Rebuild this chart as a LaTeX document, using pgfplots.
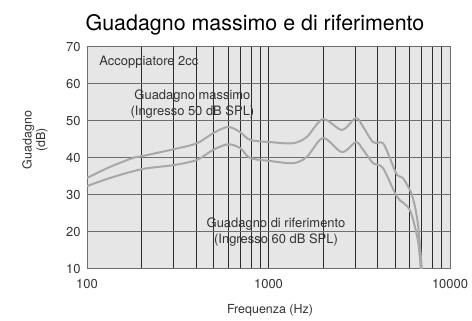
\documentclass[border=0pt]{standalone}
\usepackage{fontspec}
\setmainfont{TeX Gyre Heros}
\usepackage{pgfplots}
\pgfplotsset{compat=1.18}
\usetikzlibrary{calc}
\definecolor{bg}{HTML}{E6E6E6}
\definecolor{curve}{HTML}{A8A8A8}
\definecolor{txt}{HTML}{333333}
\definecolor{hgrid}{HTML}{6E6E6E}
\definecolor{vgrid}{HTML}{2A2A2A}
\begin{document}
\begin{tikzpicture}
\begin{axis}[
  scale only axis,
  width=363bp, height=222bp,
  xmode=log, xmin=100, xmax=10000, ymin=10, ymax=70,
  axis background/.style={fill=bg},
  axis line style={hgrid, line width=1pt},
  xtick={100,1000,10000}, xticklabels={100,1000,10000},
  ytick={10,20,30,40,50,60,70},
  major tick length=0pt, minor tick length=0pt,
  xmajorgrids, xminorgrids, ymajorgrids,
  minor x tick num=8,
  x grid style={vgrid, line width=0.8pt},
  major x grid style={vgrid, line width=0.8pt},
  minor x grid style={vgrid, line width=0.8pt},
  y grid style={hgrid, line width=1pt},
  ticklabel style={font=\fontsize{13}{15}\selectfont, text=txt},
  /pgf/number format/assume math mode=true,
  xticklabel style={yshift=-7bp},
  yticklabel style={xshift=-3bp},
  clip=true,
]
\addplot[curve, line width=2pt, smooth, tension=0.5] coordinates {
(100,34.6) (134,37.6) (179,40) (201,40.5) (302,42.4) (404,44) (495,46.7) (598,48.4) (697,47) (792,44.9) (1020,44.3) (1367,44) (1627,45.7) (1996,50.5) (2538,47.6) (3033,50.8) (3322,48.4) (3772,44.3) (4272,44) (4660,40) (5110,35.4) (5500,34.6) (6170,30) (6650,22.4) (6990,10)
};
\addplot[curve, line width=2pt, smooth, tension=0.5] coordinates {
(100,32.4) (134,34.6) (201,37) (302,38.1) (404,39.5) (495,42.2) (598,43.7) (697,42.7) (792,40) (1020,39.2) (1367,38.6) (1627,40.3) (1996,45.4) (2538,41.6) (3033,44.3) (3322,42.2) (3772,38.6) (4272,37.3) (5110,29.5) (6000,26) (6650,17.8) (6900,10)
};
\node[anchor=west, text=txt, font=\fontsize{13}{16}\selectfont] at (axis cs:112,65.9) {Accoppiatore 2cc};
\node[text=txt, font=\fontsize{13}{16}\selectfont, align=center] at (axis cs:381,54.7) {Guadagno massimo\\(Ingresso 50 dB SPL)};
\node[text=txt, font=\fontsize{13}{16}\selectfont, align=center] at (axis cs:1100,19.9) {Guadagno di riferimento\\(Ingresso 60 dB SPL)};
\end{axis}
\pgfresetboundingbox
\path ($(current axis.south west)+(-87bp,-50bp)$) rectangle ($(current axis.north east)+(22bp,47bp)$);
\node[anchor=base, text=black, font=\fontsize{21.5}{24}\selectfont] at ($(current axis.north west)+(168bp,16bp)$) {Guadagno massimo e di riferimento};
\node[anchor=base, text=txt, font=\fontsize{12.5}{14}\selectfont] at ($(current axis.south west)+(183bp,-45bp)$) {Frequenza (Hz)};
\node[text=txt, font=\fontsize{12.5}{13.5}\selectfont, rotate=90, align=center] at ($(current axis.south west)+(-52bp,129bp)$) {Guadagno\\(dB)};
\end{tikzpicture}
\end{document}
